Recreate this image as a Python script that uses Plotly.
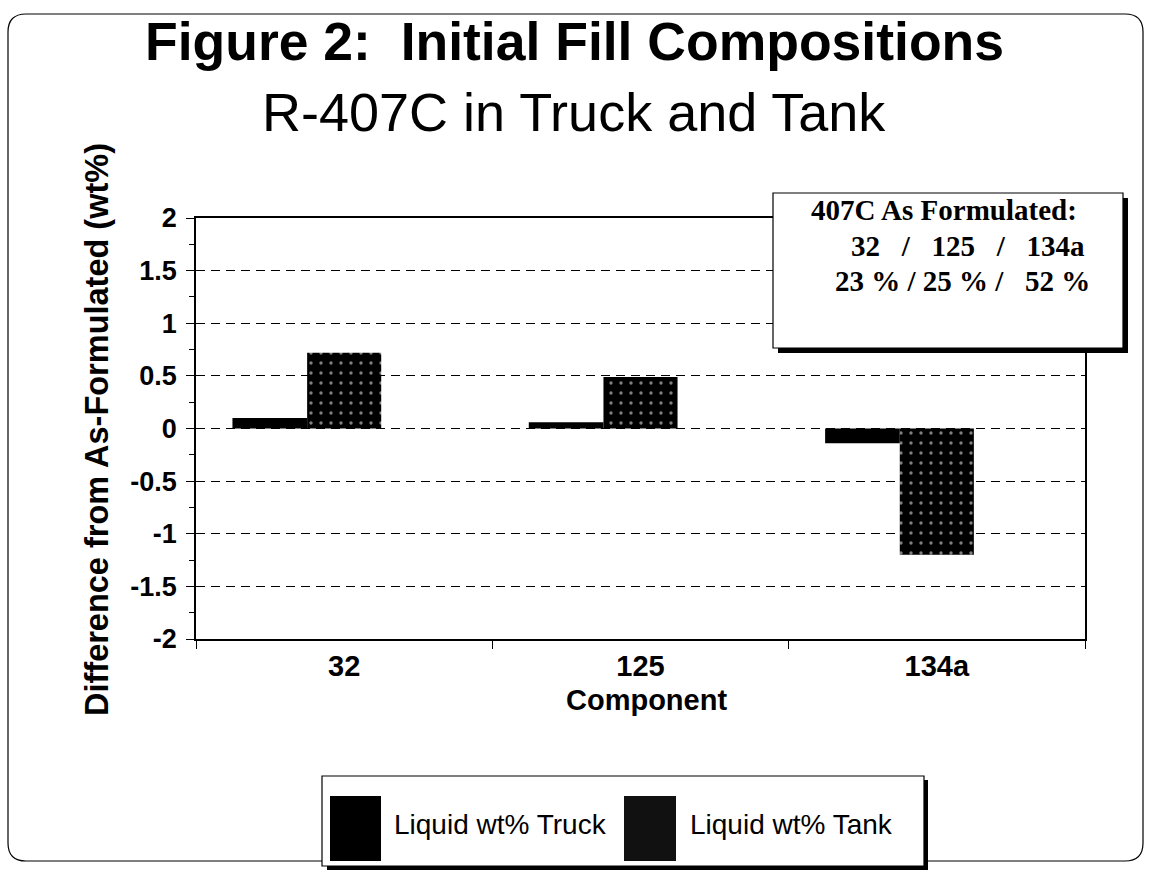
import plotly.graph_objects as go

# ---- data ----
categories = ["32", "125", "134a"]
truck = [0.10, 0.06, -0.14]
tank = [0.72, 0.49, -1.20]
series_names = ["Liquid wt% Truck", "Liquid wt% Tank"]
y_tickvals = [2, 1.5, 1, 0.5, 0, -0.5, -1, -1.5, -2]
y_ticktext = ["2", "1.5", "1", "0.5", "0", "-0.5", "-1", "-1.5", "-2"]
title_text = "Figure 2:\u00a0 Initial Fill Compositions"
subtitle_text = "R-407C in Truck and Tank"
y_title = "Difference from As-Formulated (wt%)"
x_title = "Component"
box_lines = ["407C As Formulated:",
             "32\u00a0\u00a0 /\u00a0\u00a0 125\u00a0\u00a0 /\u00a0\u00a0 134a",
             "23 % / 25 % /\u00a0\u00a0 52 %"]

# ---- layout geometry (pixels) ----
W, H = 1152, 878
L, R, T, B = 196, 1085, 218, 639

def px(x):
    return (x - L) / (R - L)

def py(y):
    return (B - y) / (B - T)

SANS = "Liberation Sans, Arial, sans-serif"
SERIF = "Liberation Serif, Times New Roman, serif"

fig = go.Figure()
fig.add_trace(go.Bar(
    x=categories, y=truck, name=series_names[0],
    offset=-0.377, width=0.252,
    marker=dict(color="black", line=dict(width=0)),
    showlegend=False,
))
fig.add_trace(go.Bar(
    x=categories, y=tank, name=series_names[1],
    offset=-0.125, width=0.25,
    marker=dict(color="black", line=dict(width=0),
                pattern=dict(shape=".", fgcolor="white", bgcolor="black",
                             size=10, solidity=0.09)),
    showlegend=False,
))

shapes = []
annotations = []

def rect(x0, y0, x1, y1, fill="white", lw=1.5, layer="above"):
    return dict(type="rect", xref="paper", yref="paper",
                x0=px(x0), x1=px(x1), y0=py(y0), y1=py(y1),
                fillcolor=fill, line=dict(color="black", width=lw), layer=layer)

# outer rounded border
x0, y0, x1, y1, r = 8, 14, 1143, 861, 18
path = (f"M {px(x0 + r)},{py(y0)} L {px(x1 - r)},{py(y0)} "
        f"Q {px(x1)},{py(y0)} {px(x1)},{py(y0 + r)} "
        f"L {px(x1)},{py(y1 - r)} Q {px(x1)},{py(y1)} {px(x1 - r)},{py(y1)} "
        f"L {px(x0 + r)},{py(y1)} Q {px(x0)},{py(y1)} {px(x0)},{py(y1 - r)} "
        f"L {px(x0)},{py(y0 + r)} Q {px(x0)},{py(y0)} {px(x0 + r)},{py(y0)} Z")
shapes.append(dict(type="path", xref="paper", yref="paper", path=path,
                   line=dict(color="black", width=1.2), layer="below"))

# info box with shadow
shapes.append(rect(778, 198, 1128, 353, fill="black", lw=0))
shapes.append(rect(773, 193, 1123, 348, fill="white", lw=1.2))
box_y = [210, 246, 281]
box_x = [944, 968, 962]
for t, yy, xx in zip(box_lines, box_y, box_x):
    annotations.append(dict(xref="paper", yref="paper", x=px(xx), y=py(yy),
                            text=f"<b>{t}</b>", showarrow=False,
                            xanchor="center", yanchor="middle",
                            font=dict(family=SERIF, size=29, color="black")))

# legend box with shadow
shapes.append(rect(327, 780, 928, 870, fill="black", lw=0))
shapes.append(rect(322, 776, 924, 866, fill="white", lw=1.2))
shapes.append(rect(330, 796, 381, 861, fill="black", lw=0))
shapes.append(rect(624, 796, 676, 861, fill="#111111", lw=0))
annotations.append(dict(xref="paper", yref="paper", x=px(392), y=py(824),
                        text=series_names[0], showarrow=False,
                        xanchor="left", yanchor="middle",
                        font=dict(family=SANS, size=28, color="black")))
annotations.append(dict(xref="paper", yref="paper", x=px(688), y=py(824),
                        text=series_names[1], showarrow=False,
                        xanchor="left", yanchor="middle",
                        font=dict(family=SANS, size=28, color="black")))

# titles
annotations.append(dict(xref="paper", yref="paper", x=px(574), y=py(42),
                        text=f"<b>{title_text}</b>", showarrow=False,
                        xanchor="center", yanchor="middle",
                        font=dict(family=SANS, size=53.5, color="black")))
annotations.append(dict(xref="paper", yref="paper", x=px(574), y=py(112),
                        text=subtitle_text, showarrow=False,
                        xanchor="center", yanchor="middle",
                        font=dict(family=SANS, size=54, color="black")))
annotations.append(dict(xref="paper", yref="paper", x=px(97), y=py(430),
                        text=f"<b>{y_title}</b>", showarrow=False, textangle=-90,
                        xanchor="center", yanchor="middle",
                        font=dict(family=SANS, size=32.5, color="black")))
annotations.append(dict(xref="paper", yref="paper", x=px(646), y=py(700),
                        text=f"<b>{x_title}</b>", showarrow=False,
                        xanchor="center", yanchor="middle",
                        font=dict(family=SANS, size=29, color="black")))

fig.update_layout(
    width=W, height=H,
    margin=dict(l=L, r=W - R, t=T, b=H - B, pad=0),
    paper_bgcolor="white", plot_bgcolor="white",
    barmode="overlay",
    showlegend=False,
    shapes=shapes,
    annotations=annotations,
    xaxis=dict(type="category", range=[-0.5, 2.5], showline=True,
               linecolor="black", linewidth=1.5, mirror=True,
               ticks="outside", tickson="boundaries", ticklen=8,
               tickcolor="black", showgrid=False, zeroline=False,
               tickfont=dict(family=SANS, size=29, color="black", weight="bold")),
    yaxis=dict(range=[-2, 2], tickvals=y_tickvals, ticktext=y_ticktext,
               showline=True, linecolor="black", linewidth=1.5, mirror=True,
               ticks="outside", ticklen=8, tickcolor="black",
               ticklabelstandoff=4,
               minor=dict(dtick=0.25, ticks="outside", ticklen=5,
                          tickcolor="black", showgrid=False),
               showgrid=True, gridcolor="black", gridwidth=1,
               griddash="9px,6px", zeroline=False,
               tickfont=dict(family=SANS, size=27, color="black", weight="bold")),
)

fig.write_html("out.html", config={"displayModeBar": False},
               post_script="document.body.style.margin='0';document.body.style.overflow='hidden';")
